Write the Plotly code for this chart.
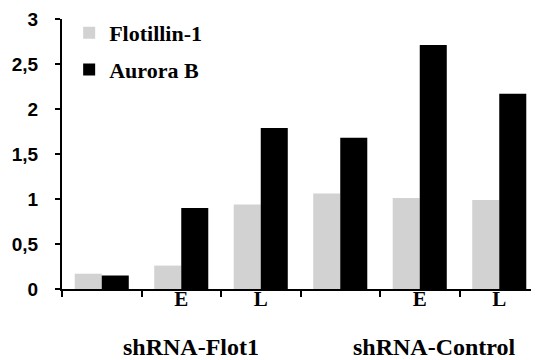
import plotly.graph_objects as go

# Data
conditions = ["", "E", "L", "", "E", "L"]
groups = ["shRNA-Flot1", "shRNA-Control"]
flotillin = [0.17, 0.26, 0.94, 1.06, 1.01, 0.99]
aurora_b = [0.15, 0.90, 1.79, 1.68, 2.71, 2.17]
y_ticks = [0, 0.5, 1, 1.5, 2, 2.5, 3]
y_ticktext = ["0", "0,5", "1", "1,5", "2", "2,5", "3"]

x = list(range(len(conditions)))

fig = go.Figure()
fig.add_trace(go.Bar(x=x, y=flotillin, name="<b>Flotillin-1</b>",
                     marker=dict(color="#d2d2d2", line_width=0),
                     legendgroup="a"))
fig.add_trace(go.Bar(x=x, y=aurora_b, name="<b>Aurora B</b>",
                     marker=dict(color="#000000", line_width=0),
                     legendgroup="b"))

serif = "Liberation Serif"

# group labels under the category labels
group_x = [1.12, 4.18]
for gx, label in zip(group_x, groups):
    fig.add_annotation(x=gx, y=-0.215, xref="x", yref="paper", text="<b>%s</b>" % label,
                       showarrow=False, yanchor="middle",
                       font=dict(family=serif, size=24, color="black"))

# the page body has an 8px margin, so the figure is a bit smaller than the window
fig.update_layout(
    width=531, height=352,
    margin=dict(l=54, r=0, t=11, b=71),
    font=dict(family=serif, color="black"),
    plot_bgcolor="white", paper_bgcolor="white",
    barmode="group", bargap=0.32, bargroupgap=0,
    showlegend=True,
    legend=dict(x=0.015, y=1.026, xanchor="left", yanchor="top",
                bgcolor="rgba(0,0,0,0)", tracegroupgap=5,
                font=dict(family=serif, size=22, color="black")),
    xaxis=dict(range=[-0.5, 5.5], tickmode="array", tickvals=x,
               ticktext=["<b>%s</b>" % c for c in conditions],
               ticks="", showgrid=False, zeroline=False,
               showline=True, linecolor="black", linewidth=2,
               ticklabelstandoff=-10,
               tickfont=dict(family=serif, size=21, color="black"),
               minor=dict(tickmode="linear", tick0=-0.5, dtick=1, ticks="outside",
                          ticklen=6, tickwidth=2, tickcolor="black", showgrid=False)),
    yaxis=dict(range=[0, 3], tickmode="array", tickvals=y_ticks, ticktext=y_ticktext,
               ticks="outside", ticklen=5, tickwidth=2, tickcolor="black",
               showgrid=False, zeroline=False,
               showline=True, linecolor="black", linewidth=2,
               ticklabelstandoff=13,
               tickfont=dict(family="Liberation Sans", size=19, color="black", weight="bold")),
)

fig.write_html("out.html")
